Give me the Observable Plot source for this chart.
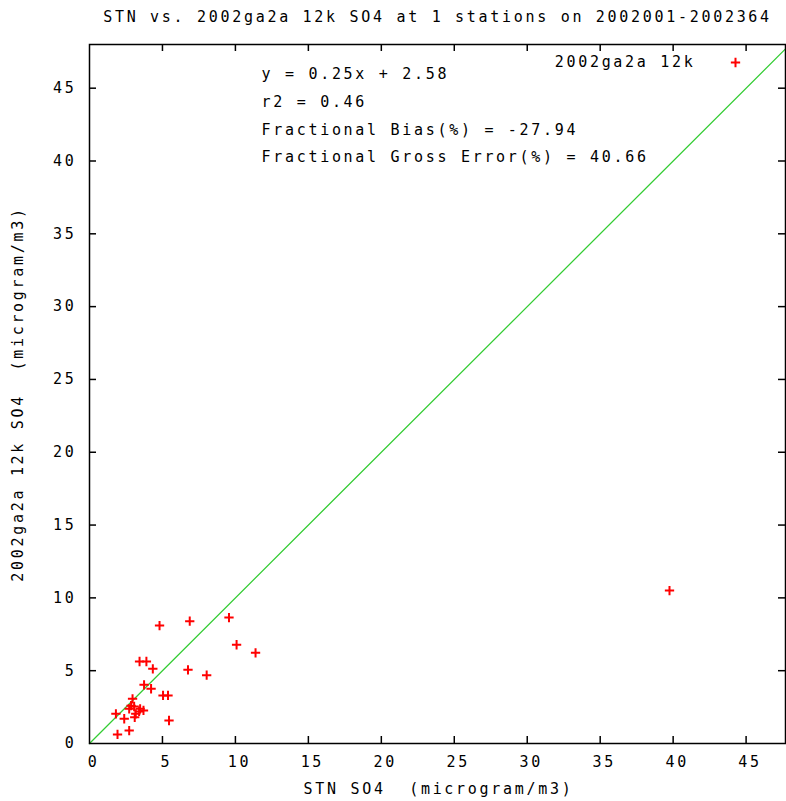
<!DOCTYPE html>
<html>
<head>
<meta charset="utf-8">
<script src="https://cdn.jsdelivr.net/npm/d3@7"></script>
<script src="https://cdn.jsdelivr.net/npm/@observablehq/plot@0.6"></script>
<style>
  html, body { margin: 0; padding: 0; background: white; }
</style>
</head>
<body>
<div id="chart"></div>
<script>
// ---- data ----
const stnSO4 = [4.80, 6.87, 9.56, 10.08, 11.38, 3.43, 3.90, 4.34, 6.75, 8.03,
                3.74, 4.22, 5.04, 5.38, 2.95, 2.72, 3.06, 3.47, 3.70, 3.17,
                3.40, 3.10, 2.85, 1.81, 2.38, 5.45, 2.72, 1.92, 39.75];
const modelSO4 = [8.10, 8.40, 8.65, 6.78, 6.23, 5.63, 5.63, 5.13, 5.06, 4.69,
                  4.03, 3.76, 3.30, 3.30, 3.07, 2.38, 2.54, 2.38, 2.27, 2.04,
                  2.20, 1.80, 2.60, 2.04, 1.70, 1.58, 0.89, 0.62, 10.50];
const tickValues = [0, 5, 10, 15, 20, 25, 30, 35, 40, 45];
const axisMaxX = 47.7;
const axisMaxY = 48.0;
const oneToOne = [0, axisMaxX];
const seriesName = "2002ga2a 12k";
const titleText = "STN vs. 2002ga2a 12k SO4 at 1 stations on 2002001-2002364";
const xLabel = "STN SO4  (microgram/m3)";
const yLabel = "2002ga2a 12k SO4  (microgram/m3)";
const statLines = [
  "y = 0.25x + 2.58",
  "r2 = 0.46",
  "Fractional Bias(%) = -27.94",
  "Fractional Gross Error(%) = 40.66"
];

const points = stnSO4.map((x, i) => ({x, y: modelSO4[i]}));
const innerTicks = tickValues.slice(1);

const W = 786, H = 801;
const mL = 89, mR = 1, mT = 44, mB = 58;
const tickLen = 7;
const frameW = W - mL - mR, frameH = H - mT - mB;

const chart = Plot.plot({
  width: W,
  height: H,
  marginLeft: mL,
  marginRight: mR,
  marginTop: mT,
  marginBottom: mB,
  style: {
    fontFamily: "'DejaVu Sans Mono', monospace",
    fontSize: "15px",
    letterSpacing: "2.7px",
    background: "white",
    color: "black"
  },
  x: {domain: [0, axisMaxX], label: null, axis: null},
  y: {domain: [0, axisMaxY], label: null, axis: null},
  marks: [
    Plot.line(oneToOne, {x: d => d, y: d => d, stroke: "#33cc33", strokeWidth: 1.3}),
    Plot.dot(points, {x: "x", y: "y", symbol: "plus", r: 3.1, stroke: "#ff0000", strokeWidth: 2}),
    Plot.frame({stroke: "black", strokeWidth: 1.5}),
    // inward ticks on all four sides
    Plot.ruleX(innerTicks, {x: d => d, insetTop: frameH - tickLen, stroke: "black", strokeWidth: 1.5}),
    Plot.ruleX(innerTicks, {x: d => d, insetBottom: frameH - tickLen, stroke: "black", strokeWidth: 1.5}),
    Plot.ruleY(innerTicks, {y: d => d, insetRight: frameW - tickLen, stroke: "black", strokeWidth: 1.5}),
    Plot.ruleY(innerTicks, {y: d => d, insetLeft: frameW - tickLen, stroke: "black", strokeWidth: 1.5}),
    // tick labels
    Plot.axisX({anchor: "bottom", ticks: tickValues, tickSize: 0, tickPadding: 13, dx: 4, label: null}),
    Plot.axisY({anchor: "left", ticks: tickValues, tickSize: 0, tickPadding: 13, label: null}),
    // title
    Plot.text([titleText], {frameAnchor: "top", lineAnchor: "middle", dy: -27, text: d => d}),
    // axis labels
    Plot.text([xLabel], {frameAnchor: "bottom", lineAnchor: "middle", dy: 46, dx: 1, text: d => d}),
    Plot.text([yLabel], {frameAnchor: "left", textAnchor: "middle", lineAnchor: "middle", rotate: -90, dx: -71, text: d => d}),
    // statistics block
    Plot.text([statLines.join("\n")], {frameAnchor: "top-left", textAnchor: "start", lineAnchor: "top", dx: 172, dy: 15, lineHeight: 1.85, text: d => d}),
    // key
    Plot.text([seriesName], {frameAnchor: "top-right", textAnchor: "end", lineAnchor: "middle", dx: -90, dy: 18, text: d => d}),
    Plot.dot([seriesName], {frameAnchor: "top-right", dx: -50, dy: 18, symbol: "plus", r: 3.1, stroke: "#ff0000", strokeWidth: 2})
  ]
});
document.getElementById("chart").appendChild(chart);
</script>
</body>
</html>
